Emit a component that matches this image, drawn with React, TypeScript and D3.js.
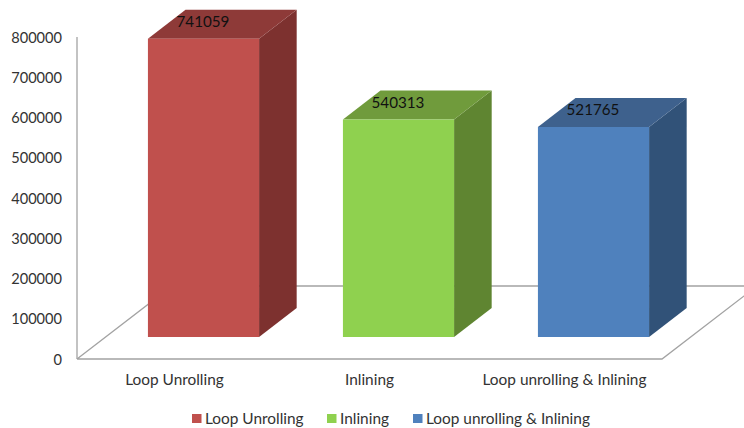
import React from "react";
import * as d3 from "d3";

const categories = ["Loop Unrolling", "Inlining", "Loop unrolling & Inlining"];
const values = [741059, 540313, 521765];
const yTicks = [0, 100000, 200000, 300000, 400000, 500000, 600000, 700000, 800000];
const faceColors = ["#C0504D", "#8FD14F", "#4F81BD"];
const sideColors = ["#7D312F", "#5F8531", "#315278"];
const topColors = ["#8E3A38", "#709B3C", "#3E618D"];

const WIDTH = 744;
const HEIGHT = 428;
const FONT = "Lato, Carlito, Calibri, sans-serif";
const GRID = "#A3A3A3";
const LABEL_SIZE = 15.4;

// Oblique projection: the floor recedes up and to the right.
const floorDepth = { dx: 95, dy: -73 };
const barInset = { dx: 29, dy: -22 };
const barDepth = { dx: 37.6, dy: -29 };

const x = d3.scaleBand<string>().domain(categories).range([77, 662]).paddingInner(0.43).paddingOuter(0.215);
const y = d3.scaleLinear().domain([0, 800000]).range([359, 37]);
const poly = d3.line();

export default function App() {
  const bars = categories.map((c, i) => {
    const left = (x(c) as number) + barInset.dx;
    const right = left + x.bandwidth();
    const base = y(0) + barInset.dy;
    const top = y(values[i]) + barInset.dy;
    return { c, i, left, right, base, top };
  });
  const back = y(0) + floorDepth.dy;

  return (
    <svg
      width={WIDTH}
      height={HEIGHT}
      viewBox={`0 0 ${WIDTH} ${HEIGHT}`}
      style={{ position: "absolute", left: 0, top: 0, background: "#fff" }}
      fontFamily={FONT}
    >
      {/* Floor outline and value axis */}
      <g fill="none" stroke={GRID} strokeWidth={1.3}>
        <path
          d={
            poly([
              [77, y(0)],
              [77 + floorDepth.dx, back],
              [662 + floorDepth.dx, back],
              [662, y(0)],
              [77, y(0)],
            ]) as string
          }
        />
        <path d={poly([[77, y(800000)], [77, y(0)]]) as string} />
      </g>

      {/* Value axis labels */}
      <g fontSize={14.6} fill="#333" textAnchor="end">
        {yTicks.map((t) => (
          <text key={t} x={62} y={y(t) + 5.5}>
            {t}
          </text>
        ))}
      </g>

      {/* Extruded bars */}
      {bars.map(({ c, i, left, right, base, top }) => (
        <g key={c}>
          <path
            fill={sideColors[i]}
            d={
              poly([
                [right, top],
                [right + barDepth.dx, top + barDepth.dy],
                [right + barDepth.dx, base + barDepth.dy],
                [right, base],
              ]) as string
            }
          />
          <path
            fill={topColors[i]}
            d={
              poly([
                [left, top],
                [left + barDepth.dx, top + barDepth.dy],
                [right + barDepth.dx, top + barDepth.dy],
                [right, top],
              ]) as string
            }
          />
          <rect x={left} y={top} width={right - left} height={base - top} fill={faceColors[i]} />
          <text x={(left + right) / 2 - 0.5} y={top - 11.5} textAnchor="middle" fontSize={15.2} fill="#111">
            {values[i]}
          </text>
        </g>
      ))}

      {/* Category labels */}
      <g fontSize={LABEL_SIZE} fill="#333" textAnchor="middle">
        {categories.map((c) => (
          <text key={c} x={(x(c) as number) + x.bandwidth() / 2} y={385}>
            {c}
          </text>
        ))}
      </g>

      {/* Legend */}
      <g fontSize={LABEL_SIZE} fill="#333">
        {categories.map((c, i) => {
          const lx = [192, 327, 413][i];
          return (
            <g key={c}>
              <rect x={lx} y={414} width={9.5} height={9} fill={faceColors[i]} />
              <text x={lx + 13} y={424}>
                {c}
              </text>
            </g>
          );
        })}
      </g>
    </svg>
  );
}
